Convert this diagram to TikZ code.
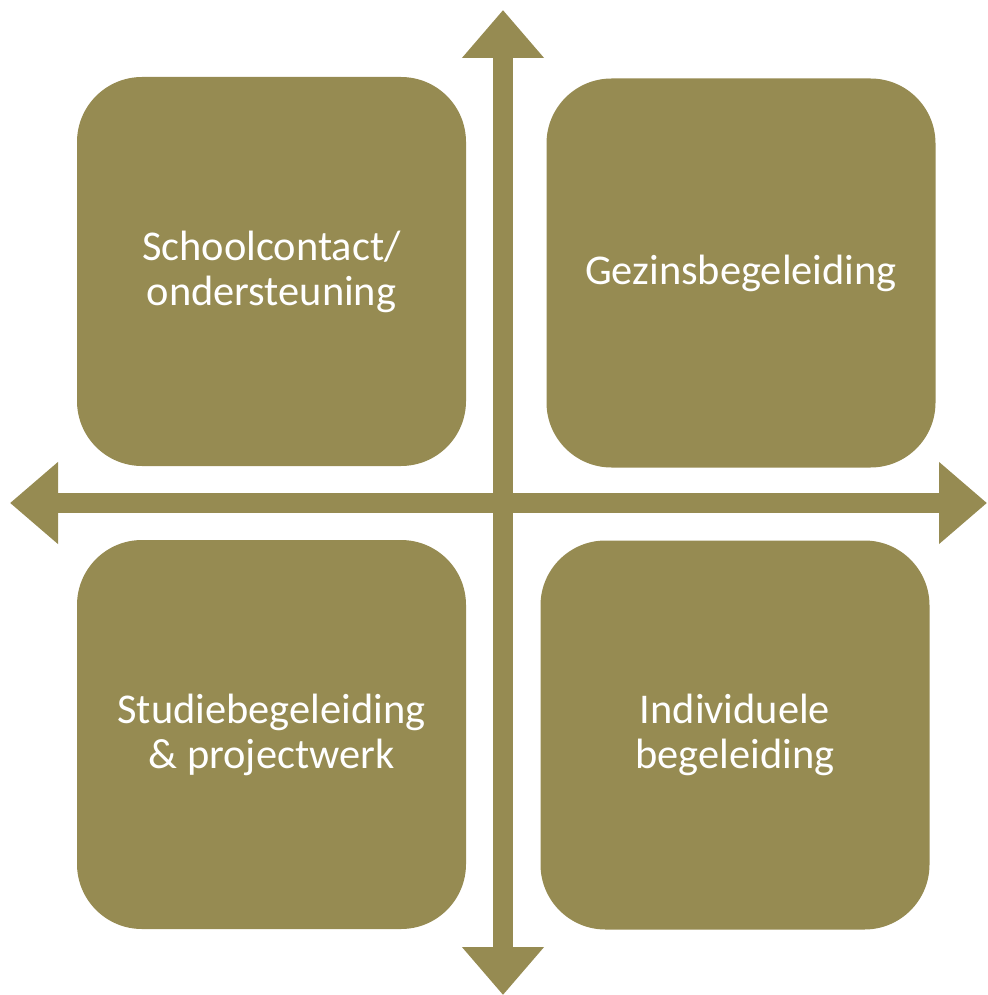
\documentclass[tikz,border=0pt]{standalone}
\usepackage{fontspec}
\setmainfont{Carlito}
\usepackage{tikz}
\usetikzlibrary{arrows.meta}
\definecolor{olive}{RGB}{150,139,82}

\begin{document}
\begin{tikzpicture}[x=1pt,y=-1pt,
                    >={Triangle[width=79pt,length=48pt]}]
  \tikzstyle{quadrant}=[fill=olive,draw=none,rounded corners=65pt,
                        minimum width=389pt,minimum height=389pt,
                        text=white,align=center,
                        font=\fontsize{42.4}{45}\selectfont]
  \tikzstyle{axis}=[<->,draw=olive,line width=20pt]

  \useasboundingbox (0,0) rectangle (987,995);

  \node[quadrant] (school)  at (271.5,271.5) {Schoolcontact/\\ondersteuning};
  \node[quadrant] (gezin)   at (741,273)     {Gezinsbegeleiding};
  \node[quadrant] (studie)  at (271.5,734.5) {Studiebegeleiding\\\& projectwerk};
  \node[quadrant] (indiv)   at (735,735)     {Individuele\\begeleiding};

  \coordinate (top)    at (503,10);
  \coordinate (bottom) at (503,995);
  \coordinate (left)   at (10,503);
  \coordinate (right)  at (987,503);

  \draw[axis] (left) -- (right);
  \draw[axis] (top) -- (bottom);
\end{tikzpicture}
\end{document}
